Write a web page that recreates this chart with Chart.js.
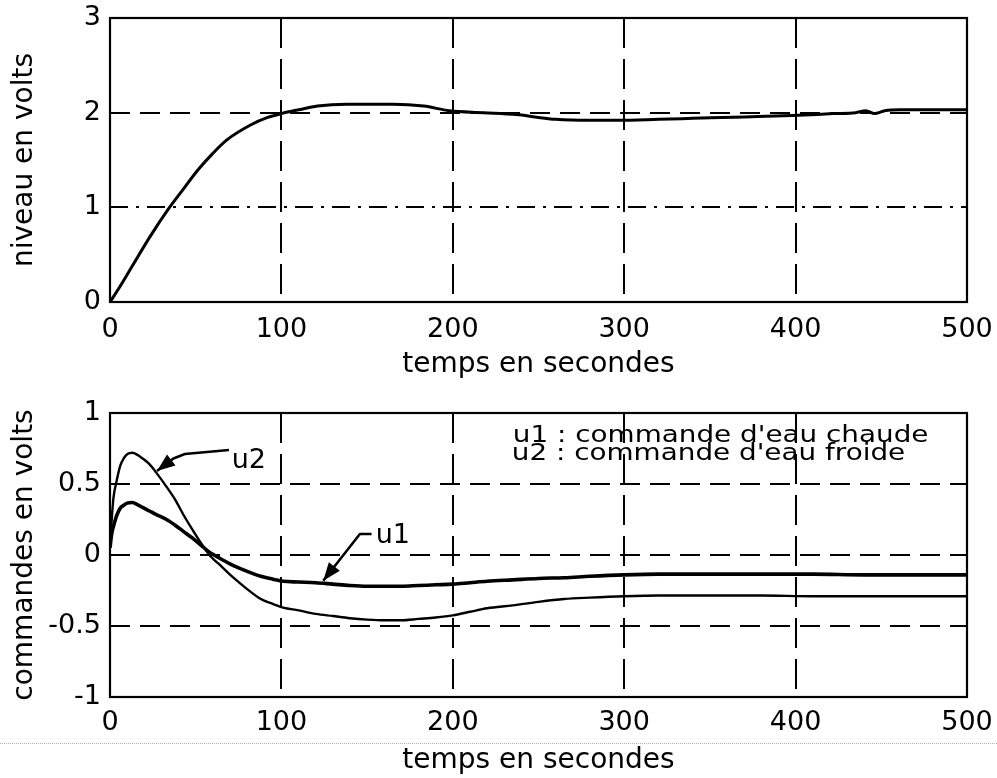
<!DOCTYPE html>
<html>
<head>
<meta charset="utf-8">
<script src="https://cdn.jsdelivr.net/npm/chart.js@4.4.0/dist/chart.umd.min.js"></script>
<style>
  body { margin: 0; background: #fff; }
  #wrap { position: relative; width: 997px; height: 778px; overflow: hidden; }
  #chartNiveau { position: absolute; left: 0; top: 0; }
  #chartCommandes { position: absolute; left: 0; top: 390px; }
  #scanLine { position: absolute; left: 0; top: 743px; width: 997px; border-top: 1px dotted #b4b4b4; }
</style>
</head>
<body>
<div id="wrap">
  <canvas id="chartNiveau" width="997" height="390"></canvas>
  <div id="scanLine"></div>
  <canvas id="chartCommandes" width="997" height="388"></canvas>
</div>
<script>
// temps (s) et niveau (V), graphe du haut
const tempsNiveau = [0, 5, 13, 23, 34, 41, 52, 60, 68, 82, 92, 100, 110, 121, 138, 165, 183, 198, 218, 237, 250, 260, 280, 297, 320, 340, 370, 398, 422, 435, 441, 446, 452, 461, 480, 500];
const niveau = [0, 0.14, 0.38, 0.68, 0.98, 1.15, 1.41, 1.57, 1.71, 1.87, 1.95, 1.99, 2.03, 2.07, 2.09, 2.09, 2.07, 2.02, 2.0, 1.98, 1.95, 1.93, 1.92, 1.92, 1.93, 1.94, 1.955, 1.97, 1.99, 2.0, 2.02, 1.99, 2.02, 2.03, 2.03, 2.03];

// commandes u1 / u2, graphe du bas
const tempsCommandes = [0, 1, 2, 4, 6, 8, 10, 13, 16, 19, 23, 27, 33, 38, 43, 48, 53, 58, 60, 65, 72, 80, 88, 95, 101, 110, 120, 130, 140, 150, 160, 170, 180, 190, 200, 210, 220, 235, 250, 265, 280, 300, 320, 350, 380, 410, 440, 470, 500];
const u1 = [0.05, 0.15, 0.2, 0.28, 0.33, 0.35, 0.365, 0.37, 0.355, 0.335, 0.31, 0.285, 0.25, 0.21, 0.165, 0.12, 0.07, 0.02, 0.005, -0.03, -0.075, -0.115, -0.15, -0.17, -0.185, -0.19, -0.195, -0.205, -0.215, -0.22, -0.22, -0.22, -0.215, -0.21, -0.205, -0.195, -0.185, -0.175, -0.165, -0.16, -0.15, -0.14, -0.135, -0.135, -0.135, -0.135, -0.14, -0.14, -0.14];
const u2 = [0.05, 0.25, 0.4, 0.53, 0.63, 0.68, 0.71, 0.72, 0.705, 0.68, 0.64, 0.58, 0.48, 0.39, 0.28, 0.18, 0.085, 0.0, -0.025, -0.08, -0.16, -0.24, -0.31, -0.345, -0.37, -0.39, -0.415, -0.43, -0.445, -0.455, -0.46, -0.46, -0.45, -0.44, -0.425, -0.4, -0.375, -0.355, -0.33, -0.31, -0.3, -0.29, -0.285, -0.285, -0.285, -0.29, -0.29, -0.29, -0.29];

const xTicks = [0, 100, 200, 300, 400, 500];
const yTicksNiveau = [0, 1, 2, 3];
const yTicksCommandes = [-1, -0.5, 0, 0.5, 1];

Chart.defaults.font.family = "'DejaVu Sans', sans-serif";
Chart.defaults.color = "#000";

const FONT_TICK = { size: 27 };
const FONT_TITLE = { size: 28 };

const DASH_H = [20, 10];
const DASH_V = [30, 11];
const DASH_DOT = [18, 8, 3, 8];

function points(xs, ys) {
  return xs.map((x, i) => ({ x: x, y: ys[i] }));
}

function setTicks(list) {
  return (scale) => {
    scale.ticks = list.map((v) => ({ value: v }));
  };
}

const framePlugin = {
  id: "frame",
  afterDatasetsDraw(chart) {
    const a = chart.chartArea;
    const ctx = chart.ctx;
    ctx.save();
    ctx.strokeStyle = "#000";
    ctx.lineWidth = 2.2;
    ctx.strokeRect(a.left, a.top, a.right - a.left, a.bottom - a.top);
    ctx.restore();
  },
};

function drawArrow(ctx, pts) {
  ctx.beginPath();
  pts.forEach((p, i) => (i ? ctx.lineTo(p[0], p[1]) : ctx.moveTo(p[0], p[1])));
  ctx.stroke();
  const [tx, ty] = pts[pts.length - 1];
  const [px, py] = pts[pts.length - 2];
  const a = Math.atan2(ty - py, tx - px);
  const len = 18, half = 7;
  const bx = tx - len * Math.cos(a), by = ty - len * Math.sin(a);
  ctx.beginPath();
  ctx.moveTo(tx, ty);
  ctx.lineTo(bx - half * Math.sin(a), by + half * Math.cos(a));
  ctx.lineTo(bx + half * Math.sin(a), by - half * Math.cos(a));
  ctx.closePath();
  ctx.fill();
}

const notesPlugin = {
  id: "notes",
  afterDatasetsDraw(chart, args, opts) {
    const xs = chart.scales.x, ys = chart.scales.y;
    const ctx = chart.ctx;
    ctx.save();
    ctx.fillStyle = "#000";
    ctx.strokeStyle = "#000";
    ctx.lineWidth = 2.6;
    ctx.lineJoin = "round";
    (opts.arrows || []).forEach((path) => {
      drawArrow(ctx, path.map((p) => [xs.getPixelForValue(p[0]), ys.getPixelForValue(p[1])]));
    });
    (opts.labels || []).forEach((l) => {
      const x = xs.getPixelForValue(l.t), y = ys.getPixelForValue(l.v);
      ctx.save();
      ctx.translate(x, y);
      ctx.scale(l.stretch || 1, 1);
      ctx.font = l.size + "px 'DejaVu Sans', sans-serif";
      ctx.textAlign = "left";
      ctx.textBaseline = "middle";
      ctx.fillText(l.text, 0, 0);
      ctx.restore();
    });
    ctx.restore();
  },
};

function gridColor(ctx) {
  const n = ctx.scale.ticks.length;
  return ctx.index === 0 || ctx.index === n - 1 ? "rgba(0,0,0,0)" : "#000";
}

function xScale(height, tickPad, titlePad) {
  return {
    type: "linear",
    min: 0,
    max: 500,
    afterBuildTicks: setTicks(xTicks),
    afterFit: (s) => {
      s.height = height;
      s.paddingLeft = 0;
      s.paddingRight = 0;
    },
    ticks: { font: FONT_TICK, color: "#000", padding: tickPad, maxRotation: 0, callback: (v) => String(v) },
    grid: { color: gridColor, lineWidth: 2, drawTicks: false },
    border: { display: false, dash: (ctx) => (ctx.type === "tick" ? DASH_V : []) },
    title: { display: true, text: "temps en secondes", font: FONT_TITLE, color: "#000", padding: { top: 0, bottom: titlePad } },
  };
}

function yScale(min, max, list, title, dashFor) {
  return {
    min: min,
    max: max,
    afterBuildTicks: setTicks(list),
    afterFit: (s) => {
      s.width = 110;
      s.paddingTop = 0;
      s.paddingBottom = 0;
    },
    ticks: { font: FONT_TICK, color: "#000", padding: 9, callback: (v) => String(v) },
    grid: { color: gridColor, lineWidth: 2, drawTicks: false },
    border: { display: false, dash: (ctx) => (ctx.type === "tick" ? dashFor(ctx.tick.value) : []) },
    title: { display: true, text: title, font: FONT_TITLE, color: "#000", padding: { top: 8, bottom: 0 } },
  };
}

const chartNiveau = new Chart(document.getElementById("chartNiveau").getContext("2d"), {
  type: "line",
  data: {
    datasets: [
      {
        data: points(tempsNiveau, niveau),
        borderColor: "#000",
        borderWidth: 3,
        pointRadius: 0,
        cubicInterpolationMode: "monotone",
      },
    ],
  },
  options: {
    responsive: false,
    animation: false,
    layout: { padding: { top: 18, right: 30, left: 0, bottom: 0 } },
    plugins: { legend: { display: false }, tooltip: { enabled: false } },
    scales: {
      x: xScale(88, 12, 8),
      y: yScale(0, 3, yTicksNiveau, "niveau en volts", (v) => (v === 1 ? DASH_DOT : DASH_H)),
    },
  },
  plugins: [framePlugin],
});

const chartCommandes = new Chart(document.getElementById("chartCommandes").getContext("2d"), {
  type: "line",
  data: {
    datasets: [
      {
        label: "u1",
        data: points(tempsCommandes, u1),
        borderColor: "#000",
        borderWidth: 3.6,
        pointRadius: 0,
        cubicInterpolationMode: "monotone",
      },
      {
        label: "u2",
        data: points(tempsCommandes, u2),
        borderColor: "#000",
        borderWidth: 2.4,
        pointRadius: 0,
        cubicInterpolationMode: "monotone",
      },
    ],
  },
  options: {
    responsive: false,
    animation: false,
    layout: { padding: { top: 23, right: 30, left: 0, bottom: 0 } },
    plugins: {
      legend: { display: false },
      tooltip: { enabled: false },
      notes: {
        labels: [
          { text: "u2", t: 71, v: 0.662, size: 27 },
          { text: "u1", t: 155, v: 0.134, size: 27 },
          { text: "u1 : commande d'eau chaude", t: 235, v: 0.84, size: 23, stretch: 1.21 },
          { text: "u2 : commande d'eau froide", t: 234.4, v: 0.71, size: 23, stretch: 1.21 },
        ],
        arrows: [
          [[69.4, 0.739], [43.7, 0.711], [37, 0.68], [27.4, 0.592]],
          [[152.6, 0.148], [145.8, 0.148], [124.4, -0.181]],
        ],
      },
    },
    scales: {
      x: xScale(81, 10, 0),
      y: yScale(-1, 1, yTicksCommandes, "commandes en volts", () => DASH_H),
    },
  },
  plugins: [framePlugin, notesPlugin],
});
</script>
</body>
</html>
